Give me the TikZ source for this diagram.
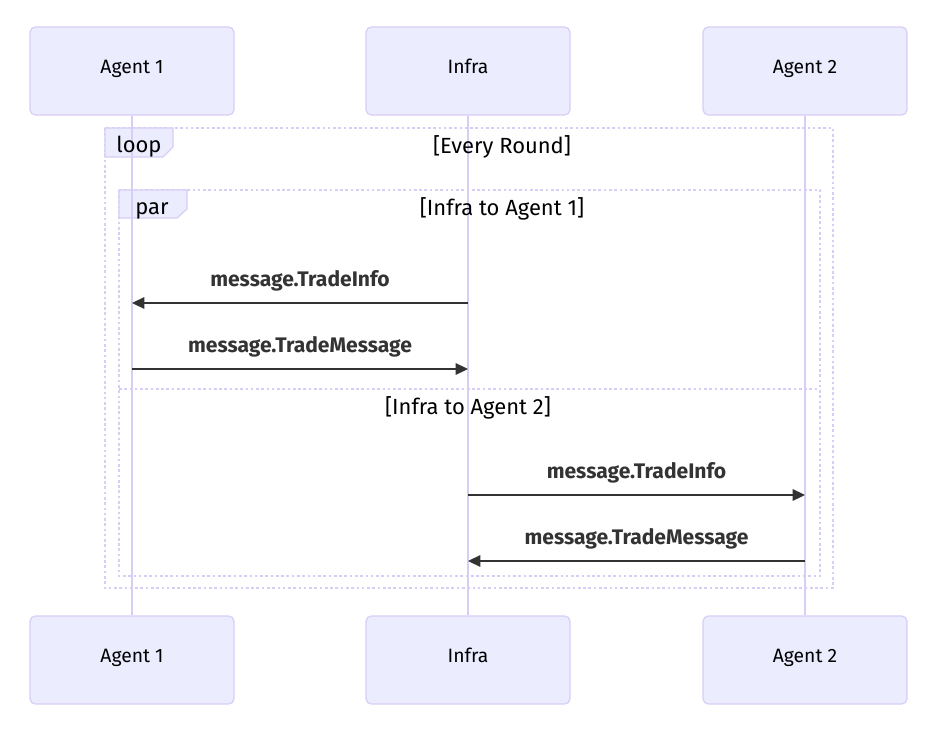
\documentclass[tikz,border=0pt]{standalone}
\usepackage{fontspec}
\setmainfont{Fira Sans}
\usetikzlibrary{arrows.meta}
\definecolor{actfill}{HTML}{ECECFF}
\definecolor{actline}{HTML}{D8CDF5}
\definecolor{msg}{HTML}{333333}

\begin{document}
\begin{tikzpicture}[x=0.02cm,y=-0.02cm,
  actor/.style={draw=actline,fill=actfill,rounded corners=3pt,line width=0.7pt,
    minimum width=4.08cm,minimum height=1.76cm,text height=1.5ex,text depth=1ex,
    font=\fontsize{11}{12}\selectfont},
  life/.style={actline,line width=1.3pt},
  frame/.style={actline,line width=1.6pt,dash pattern=on 1.5pt off 1.5pt},
  tab/.style={draw=actline,fill=actfill,line width=0.7pt},
  msgline/.style={msg,line width=1pt,-{Triangle[length=7pt,width=6.5pt]}},
  lbl/.style={font=\bfseries\fontsize{12}{14}\selectfont,text=msg},
  cond/.style={font=\fontsize{12.5}{14}\selectfont,text height=1.5ex,text depth=.25ex}]
  \useasboundingbox (0,0) rectangle (939,733);

  % frames
  \draw[frame] (105,128) rectangle (833,588);
  \draw[frame] (119,190) rectangle (820,576);
  \draw[frame] (119,389) -- (820,389);
  \draw[tab] (105,128) -- (173,128) -- (173,147) -- (163,157) -- (105,157) -- cycle;
  \draw[tab] (119,190) -- (187,190) -- (187,209) -- (177,218) -- (119,218) -- cycle;

  % actors
  \node[actor] (a1) at (132,71) {Agent 1};
  \node[actor] (inf) at (468,71) {Infra};
  \node[actor] (a2) at (805,71) {Agent 2};
  \node[actor] (a1b) at (132,660) {Agent 1};
  \node[actor] (infb) at (468,660) {Infra};
  \node[actor] (a2b) at (805,660) {Agent 2};
  \draw[life] (a1) -- (a1b);
  \draw[life] (inf) -- (infb);
  \draw[life] (a2) -- (a2b);

  % frame labels
  \node[cond] (loop) at (139,147) {loop};
  \node[cond] (par) at (152,209) {par};
  \node[cond] (every) at (502,148) {[Every Round]};
  \node[cond] (c1) at (502,210) {[Infra to Agent 1]};
  \node[cond] (c2) at (468,409) {[Infra to Agent 2]};

  % messages
  \coordinate (m1) at (0,303);
  \coordinate (m2) at (0,369);
  \coordinate (m3) at (0,495);
  \coordinate (m4) at (0,561);
  \draw[msgline] (inf |- m1) -- node[lbl,above=3pt] (t1) {message.TradeInfo} (a1 |- m1);
  \draw[msgline] (a1 |- m2) -- node[lbl,above=3pt] (t2) {message.TradeMessage} (inf |- m2);
  \draw[msgline] (inf |- m3) -- node[lbl,above=3pt] (t3) {message.TradeInfo} (a2 |- m3);
  \draw[msgline] (a2 |- m4) -- node[lbl,above=3pt] (t4) {message.TradeMessage} (inf |- m4);
\end{tikzpicture}
\end{document}
